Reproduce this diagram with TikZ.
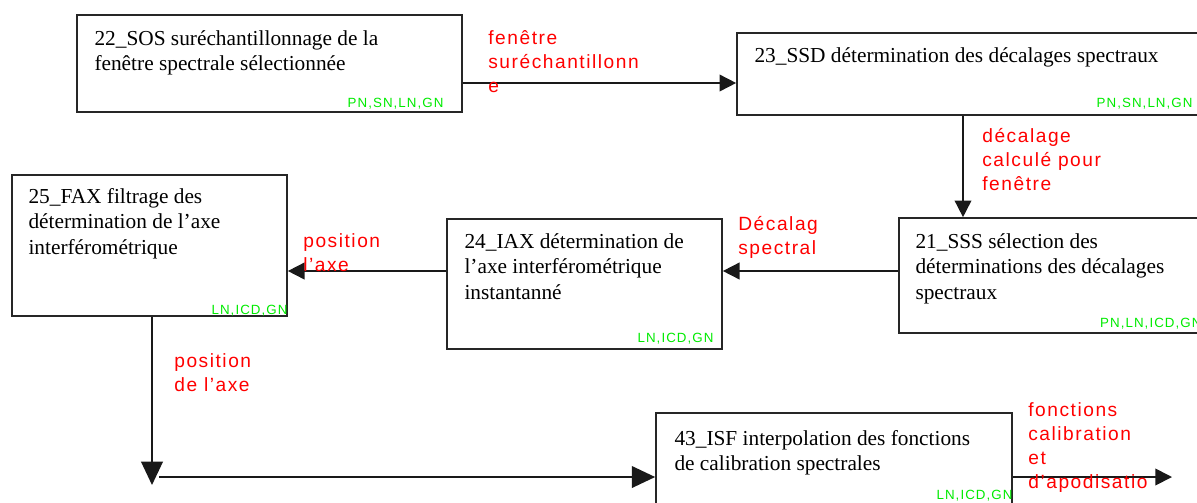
\documentclass[tikz,border=0pt]{standalone}
\usepackage{fontspec}
\setmainfont{Liberation Serif}
\newfontfamily\flowsans{Liberation Sans}[LetterSpace=8]
\usetikzlibrary{arrows.meta, positioning}
\definecolor{flowred}{RGB}{255,0,0}
\definecolor{taggreen}{RGB}{0,235,0}

\begin{document}
\begin{tikzpicture}[
    x=0.6pt, y=-0.6pt,
    block/.style={
        rectangle,
        draw=black!85,
        line width=1pt,
        inner sep=0pt
    },
    blocktext/.style={
        anchor=north west,
        inner sep=0pt,
        align=left,
        font=\fontsize{12.8}{15.2}\selectfont
    },
    tag/.style={
        anchor=base east,
        inner sep=0pt,
        text=taggreen,
        font=\flowsans\fontsize{8}{9}\selectfont
    },
    flow/.style={
        anchor=north west,
        inner sep=0pt,
        align=left,
        text=flowred,
        font=\flowsans\fontsize{11.5}{14.4}\selectfont
    },
    arrow/.style={
        -{Triangle[width=10pt, length=10pt]},
        line width=1pt,
        draw=black!90
    },
    bigarrow/.style={
        arrow,
        -{Triangle[width=13pt, length=14pt]}
    }
]
    \useasboundingbox (0,0) rectangle (1197,502);
    \clip (0,0) rectangle (1197,502);

    % les blocs de traitement
    \node (sos) [block, minimum width=231pt, minimum height=58.2pt] at (269.5,63.5) {};
    \node (ssd) [block, minimum width=277.8pt, minimum height=49.2pt] at (968.5,74) {};
    \node (sss) [block, minimum width=183.6pt, minimum height=69pt] at (1052,275.5) {};
    \node (iax) [block, minimum width=165pt, minimum height=78pt] at (584.5,284) {};
    \node (fax) [block, minimum width=165pt, minimum height=84.6pt] at (149.5,245.5) {};
    \node (isf) [block, minimum width=213.6pt, minimum height=76.8pt] at (834,477) {};

    % textes des blocs
    \node (sos-t) [blocktext] at ([shift={(18,16)}]sos.north west) {22\_SOS suréchantillonnage de la\\fenêtre spectrale sélectionnée};
    \node (ssd-t) [blocktext] at ([shift={(18,15)}]ssd.north west) {23\_SSD détermination des décalages spectraux};
    \node (sss-t) [blocktext] at ([shift={(17,16)}]sss.north west) {21\_SSS sélection des\\déterminations des décalages\\spectraux};
    \node (iax-t) [blocktext] at ([shift={(18,15)}]iax.north west) {24\_IAX détermination de\\l’axe interférométrique\\instantanné};
    \node (fax-t) [blocktext] at ([shift={(17,14)}]fax.north west) {25\_FAX filtrage des\\détermination de l’axe\\interférométrique};
    \node (isf-t) [blocktext] at ([shift={(19,18)}]isf.north west) {43\_ISF interpolation des fonctions\\de calibration spectrales};

    % niveaux de traitement
    \node (sos-g) [tag] at ([shift={(-19,-5)}]sos.south east) {PN,SN,LN,GN};
    \node (ssd-g) [tag] at ([shift={(-8,-8)}]ssd.south east) {PN,SN,LN,GN};
    \node (sss-g) [tag] at ([shift={(-4,-6)}]sss.south east) {PN,LN,ICD,GN};
    \node (iax-g) [tag] at ([shift={(-9,-7)}]iax.south east) {LN,ICD,GN};
    \node (fax-g) [tag] at ([shift={(0,-2)}]fax.south east) {LN,ICD,GN};
    \node (isf-g) [tag] at ([shift={(0,22)}]isf.east) {LN,ICD,GN};

    % points libres
    \coordinate (turn) at (152,485);
    \coordinate (start) at (159,477);
    \coordinate (out) at (1172,477);

    % flux
    \draw[arrow] (sos.east |- 0,83) -- (ssd.west |- 0,83);
    \draw[arrow] (ssd.south -| 963,0) -- (sss.north -| 963,0);
    \draw[arrow] (sss.west |- 0,271) -- (iax.east |- 0,271);
    \draw[arrow] (iax.west |- 0,271) -- (fax.east |- 0,271);
    \draw[bigarrow] (fax.south -| turn) -- (turn);
    \draw[bigarrow] (start) -- (isf.west);
    \draw[arrow] (isf.east) -- (out);

    % libellés des flux
    \node (win-l) [flow] at (488,30) {fenêtre\\suréchantillonn\\e};
    \node (dec-l) [flow] at (982,128) {décalage\\calculé pour\\fenêtre};
    \node (spec-l) [flow] at (738,216) {Décalag\\spectral};
    \node (pos-l) [flow] at (303,233) {position\\l’axe};
    \node (posb-l) [flow] at (174,353) {position\\de l’axe};
    \node (fct-l) [flow] at (1028,402) {fonctions\\calibration\\et\\d’apodisatio};

\end{tikzpicture}
\end{document}
